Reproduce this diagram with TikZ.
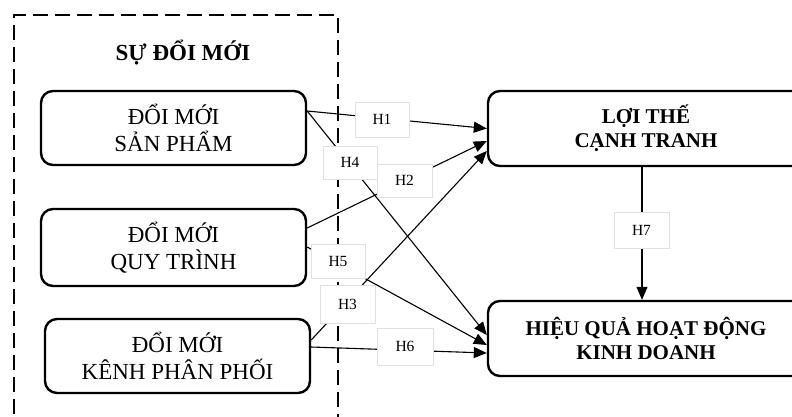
\documentclass[tikz,border=0pt]{standalone}
\usepackage{fontspec}
\setmainfont{Liberation Serif}
\usetikzlibrary{arrows.meta}
\begin{document}
\begin{tikzpicture}[x=1pt,y=-1pt,
  box/.style={draw, line width=2.4pt, rounded corners=12pt, align=center, inner sep=0pt, font=\fontsize{23}{27}\selectfont},
  rbox/.style={box, font=\fontsize{21}{24}\selectfont\bfseries},
  conn/.style={line width=1.1pt, -{Triangle[length=13pt,width=11pt]}},
  hyp/.style={fill=white, draw=black!12, line width=0.6pt, inner sep=0pt, font=\fontsize{15.5}{15.5}\selectfont}]
\useasboundingbox (0,0) rectangle (792,416);
\clip (0,0) rectangle (792,416);
\node[draw, line width=2pt, dash pattern=on 15pt off 7pt, minimum width=324pt, minimum height=420pt, anchor=north west, inner sep=0pt] (frame) at (13,14) {};
\node[font=\fontsize{23}{27}\selectfont\bfseries] (title) at (183,53) {SỰ ĐỔI MỚI};
\node[box, minimum width=265pt, minimum height=74pt] (b1) at (173.5,128) {ĐỔI MỚI\\SẢN PHẨM};
\node[box, minimum width=265pt, minimum height=77pt] (b2) at (173.5,247.5) {ĐỔI MỚI\\QUY TRÌNH};
\node[box, minimum width=265pt, minimum height=74pt] (b3) at (177.5,356) {ĐỔI MỚI\\KÊNH PHÂN PHỐI};
\node[rbox, minimum width=316pt, minimum height=75pt] (r1) at (646,128.5) {LỢI THẾ\\CẠNH TRANH};
\node[rbox, minimum width=316pt, minimum height=75pt] (r2) at (646,338.5) {HIỆU QUẢ HOẠT ĐỘNG\\KINH DOANH};
% connectors
\draw[conn] ([yshift=17pt]b1.east) -- (r1.west);
\draw[conn] ([yshift=17pt]b1.east) -- ([yshift=3.5pt]r2.west);
\draw[conn] ([yshift=19.5pt]b2.east) -- ([yshift=-12.5pt]r1.west);
\draw[conn] ([yshift=0.5pt]b2.east) -- ([yshift=-6.5pt]r2.west);
\draw[conn] ([yshift=16pt]b3.east) -- ([yshift=-22.5pt]r1.west);
\draw[conn] ([yshift=9pt]b3.east) -- ([yshift=-14.5pt]r2.west);
\draw[conn] ([xshift=-4pt]r1.south) -- ([xshift=-4pt]r2.north);
% hypothesis labels
\node[hyp, minimum width=54pt, minimum height=35pt] (h1) at (382,119.5) {H1};
\node[hyp, minimum width=54pt, minimum height=33pt] (h4) at (350,162.5) {H4};
\node[hyp, minimum width=55pt, minimum height=33pt] (h2) at (404.5,180.5) {H2};
\node[hyp, minimum width=54pt, minimum height=34pt] (h5) at (338,261) {H5};
\node[hyp, minimum width=55pt, minimum height=38pt] (h3) at (347.5,304) {H3};
\node[hyp, minimum width=56pt, minimum height=37pt] (h6) at (405,346.5) {H6};
\node[hyp, minimum width=55pt, minimum height=36pt] (h7) at (641.5,230) {H7};
\end{tikzpicture}
\end{document}
